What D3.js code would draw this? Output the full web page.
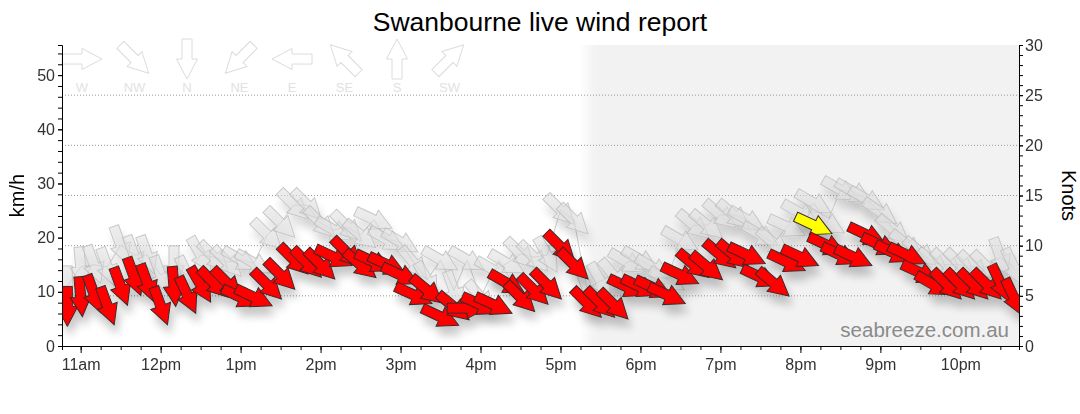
<!DOCTYPE html>
<html lang="en">
<head>
<meta charset="utf-8">
<title>Swanbourne live wind report</title>
<script src="https://cdn.jsdelivr.net/npm/d3@7"></script>
<style>
  body { margin: 0; background: #fff; }
  text { font-family: "Liberation Sans", Arial, sans-serif; }
</style>
</head>
<body>
<div id="wrapper"></div>
<script>
// readings every 10 minutes
const times = ["10:50","11:00","11:10","11:20","11:30","11:40","11:50",
  "12:00","12:10","12:20","12:30","12:40","12:50",
  "13:00","13:10","13:20","13:30","13:40","13:50",
  "14:00","14:10","14:20","14:30","14:40","14:50",
  "15:00","15:10","15:20","15:30","15:40","15:50",
  "16:00","16:10","16:20","16:30","16:40","16:50",
  "17:00","17:10","17:20","17:30","17:40","17:50",
  "18:00","18:10","18:20","18:30","18:40","18:50",
  "19:00","19:10","19:20","19:30","19:40","19:50",
  "20:00","20:10","20:20","20:30","20:40","20:50",
  "21:00","21:10","21:20","21:30","21:40","21:50",
  "22:00","22:10","22:20","22:30","22:40"]

// average wind, km/h
const avgSpeed = [7.3, 9.1, 9.6, 7.4, 11.0, 12.8, 11.6, 7.4, 11.0, 9.4,
  11.3, 11.6, 11.6, 9.0, 9.0, 11.3, 13.1, 15.9, 15.3, 15.0,
  16.4, 17.2, 15.0, 15.5, 15.0, 13.1, 9.4, 10.3, 5.4, 7.2,
  7.0, 7.6, 7.6, 11.6, 9.0, 10.3, 11.3, 18.3, 15.0, 7.9,
  7.9, 7.6, 10.9, 10.9, 10.7, 9.4, 13.1, 15.0, 14.6, 16.8,
  16.8, 16.8, 12.7, 11.6, 15.5, 16.4, 22.3, 18.6, 16.8, 16.4,
  20.5, 18.6, 17.2, 16.8, 13.5, 11.3, 11.3, 11.3, 11.3, 11.3,
  11.6, 9.0]

// wind direction (degrees, from)
const avgDir = [360, 355, 340, 340, 340, 340, 340, 340, 355, 335,
  330, 315, 315, 295, 295, 315, 315, 315, 315, 315,
  295, 315, 310, 295, 295, 295, 295, 310, 295, 310,
  270, 295, 295, 300, 315, 315, 315, 315, 315, 315,
  315, 315, 295, 295, 295, 295, 295, 310, 310, 310,
  310, 295, 295, 310, 295, 295, 295, 295, 295, 295,
  295, 295, 295, 295, 295, 300, 315, 315, 315, 315,
  335, 335]

// gusts, km/h
const gustSpeed = [11.1, 14.6, 15.0, 14.6, 18.6, 16.8, 16.8, 13.1, 14.8, 13.1,
  16.8, 16.4, 15.5, 15.9, 15.3, 20.5, 22.7, 26.0, 26.0, 22.7,
  21.4, 22.0, 20.5, 23.3, 19.6, 19.2, 15.3, 12.2, 15.9, 10.3,
  15.9, 9.0, 14.0, 15.3, 17.0, 16.4, 16.8, 25.1, 23.3, 10.5,
  12.0, 13.0, 15.5, 15.9, 14.4, 12.2, 19.6, 22.3, 22.3, 24.2,
  24.2, 23.3, 20.5, 19.0, 22.0, 24.5, 26.4, 22.7, 28.8, 28.4,
  27.0, 24.7, 21.4, 18.6, 17.3, 15.3, 15.0, 15.0, 14.6, 14.6,
  16.4, 14.6]

const gustDir = [360, 355, 340, 340, 340, 340, 340, 340, 360, 335,
  330, 315, 315, 300, 300, 315, 315, 315, 315, 315,
  300, 315, 310, 295, 300, 300, 320, 330, 300, 340,
  300, 320, 300, 300, 315, 315, 330, 315, 315, 340,
  330, 320, 300, 300, 300, 300, 300, 310, 310, 310,
  310, 300, 300, 310, 295, 300, 300, 300, 300, 300,
  300, 305, 310, 310, 310, 310, 315, 315, 315, 315,
  340, 335]

const highlightTimes = ["20:10"]
const sunset = "17:20"

const compassNames = ["W", "NW", "N", "NE", "E", "SE", "S", "SW"]
const compassDeg = [270, 315, 0, 45, 90, 135, 180, 225]
const hourTicks = ["11:00","12:00","13:00","14:00","15:00","16:00","17:00","18:00","19:00","20:00","21:00","22:00"]
const hourLabels = ["11am","12pm","1pm","2pm","3pm","4pm","5pm","6pm","7pm","8pm","9pm","10pm"]
const kmhTicks = [0, 10, 20, 30, 40, 50]
const knotTicks = [0, 5, 10, 15, 20, 25, 30]

const parseTime = d3.timeParse("%H:%M")
const KMH_PER_KNOT = 1.852

const width = 1080, height = 414
const plot = { left: 62, right: 1019, top: 45, bottom: 346 }

const svg = d3.select("#wrapper").append("svg")
  .attr("width", width).attr("height", height)

const x = d3.scaleTime()
  .domain([parseTime("10:46"), parseTime("22:44")])
  .range([plot.left, plot.right])
const y = d3.scaleLinear()
  .domain([0, 30 * KMH_PER_KNOT])
  .range([plot.bottom, plot.top])
const yKnots = d3.scaleLinear()
  .domain([0, 30])
  .range([plot.bottom, plot.top])

const defs = svg.append("defs")
defs.append("clipPath").attr("id", "plot-clip")
  .append("rect")
  .attr("x", plot.left).attr("y", plot.top)
  .attr("width", plot.right - plot.left).attr("height", plot.bottom - plot.top)

const shadow = defs.append("filter").attr("id", "shadow")
  .attr("x", "-10%").attr("y", "-20%").attr("width", "125%").attr("height", "150%")
shadow.append("feGaussianBlur").attr("in", "SourceAlpha").attr("stdDeviation", 4).attr("result", "blur")
shadow.append("feOffset").attr("in", "blur").attr("dx", 3).attr("dy", 9).attr("result", "off")
shadow.append("feComponentTransfer").attr("in", "off").attr("result", "soft")
  .append("feFuncA").attr("type", "linear").attr("slope", 0.22)
const merge = shadow.append("feMerge")
merge.append("feMergeNode").attr("in", "soft")
merge.append("feMergeNode").attr("in", "SourceGraphic")

const night = defs.append("linearGradient").attr("id", "night-edge")
night.append("stop").attr("offset", "0%").attr("stop-color", "#ffffff")
night.append("stop").attr("offset", "100%").attr("stop-color", "#f2f2f2")

// night shading
const xs = x(parseTime(sunset))
svg.append("rect")
  .attr("x", xs - 8).attr("y", plot.top)
  .attr("width", 16).attr("height", plot.bottom - plot.top)
  .attr("fill", "url(#night-edge)")
svg.append("rect")
  .attr("x", xs + 8).attr("y", plot.top)
  .attr("width", plot.right - xs - 8).attr("height", plot.bottom - plot.top)
  .attr("fill", "#f2f2f2")

// knot gridlines
svg.append("g")
  .selectAll("line")
  .data(knotTicks.filter(k => k > 0 && k < 30))
  .join("line")
  .attr("x1", plot.left).attr("x2", plot.right)
  .attr("y1", d => yKnots(d)).attr("y2", d => yKnots(d))
  .attr("stroke", "#999").attr("stroke-dasharray", "1,2")

// watermark
svg.append("text")
  .attr("x", 1009).attr("y", 337)
  .attr("text-anchor", "end")
  .style("font-size", "20.5px")
  .style("fill", "#8a8a8a")
  .text("seabreeze.com.au")

// arrow shape pointing right, centred on the point
const arrowPath = "M-20,-5L0,-5L0,-10.5L20,0L0,10.5L0,5L-20,5Z"
const rot = dir => dir - 270

// compass legend
const legend = svg.append("g")
compassNames.forEach((name, i) => {
  const cx = 82 + i * 52.5
  legend.append("path")
    .attr("d", arrowPath)
    .attr("transform", `translate(${cx},59) rotate(${rot(compassDeg[i])})`)
    .attr("fill", "#fff")
    .attr("stroke", "#dcdcdc")
  legend.append("text")
    .attr("x", cx).attr("y", 92)
    .attr("text-anchor", "middle")
    .style("font-size", "13px")
    .style("fill", "#e2e2e2")
    .text(name)
})

const readings = times.map((t, i) => ({
  time: parseTime(t),
  label: t,
  avg: avgSpeed[i],
  avgDir: avgDir[i],
  gust: gustSpeed[i],
  gustDir: gustDir[i]
}))

const marks = svg.append("g").attr("clip-path", "url(#plot-clip)")

// gust line and arrows
marks.append("path")
  .datum(readings)
  .attr("fill", "none")
  .attr("stroke", "#cfcfcf")
  .attr("stroke-width", 1)
  .attr("d", d3.line().x(d => x(d.time)).y(d => y(d.gust)))

marks.append("g")
  .attr("filter", "url(#shadow)")
  .selectAll("path")
  .data(readings)
  .join("path")
  .attr("d", arrowPath)
  .attr("transform", d => `translate(${x(d.time)},${y(d.gust)}) rotate(${rot(d.gustDir)})`)
  .attr("fill", "#dedede")
  .attr("fill-opacity", 0.55)
  .attr("stroke", "#bdbdbd")
  .attr("stroke-opacity", 0.8)

// average arrows
marks.append("g")
  .attr("filter", "url(#shadow)")
  .selectAll("path")
  .data(readings)
  .join("path")
  .attr("d", arrowPath)
  .attr("transform", d => `translate(${x(d.time)},${y(d.avg)}) rotate(${rot(d.avgDir)})`)
  .attr("fill", d => highlightTimes.includes(d.label) ? "#ffff00" : "#ff0000")
  .attr("stroke", "#3a2a2a")
  .attr("stroke-width", 1)

// axes
svg.append("g")
  .attr("transform", `translate(${plot.left},0)`)
  .call(d3.axisLeft(y).tickValues(d3.range(0, 56, 2)).tickSize(4).tickFormat(""))
svg.append("g")
  .attr("transform", `translate(${plot.left},0)`)
  .call(d3.axisLeft(y).tickValues(kmhTicks).tickSize(4).tickPadding(3))
  .call(g => g.select(".domain").remove())

svg.append("g")
  .attr("transform", `translate(${plot.right},0)`)
  .call(d3.axisRight(yKnots).tickValues(d3.range(0, 31, 1)).tickSize(4).tickFormat(""))
svg.append("g")
  .attr("transform", `translate(${plot.right},0)`)
  .call(d3.axisRight(yKnots).tickValues(knotTicks).tickSize(4).tickPadding(2))
  .call(g => g.select(".domain").remove())

svg.append("g")
  .attr("transform", `translate(0,${plot.bottom})`)
  .call(d3.axisBottom(x).ticks(d3.timeMinute.every(15)).tickSize(4).tickFormat(""))
svg.append("g")
  .attr("transform", `translate(0,${plot.bottom})`)
  .call(d3.axisBottom(x)
    .tickValues(hourTicks.map(parseTime))
    .tickSize(7)
    .tickPadding(6)
    .tickFormat((d, i) => hourLabels[i]))
  .call(g => g.select(".domain").remove())

svg.selectAll(".tick text")
  .style("font-size", "16px")
  .style("font-family", "'Liberation Sans', Arial, sans-serif")
  .style("fill", "#333")
svg.selectAll(".domain, .tick line").attr("stroke", "#000")

// titles
svg.append("text")
  .attr("x", 540).attr("y", 31)
  .attr("text-anchor", "middle")
  .style("font-size", "26.5px")
  .style("fill", "#000")
  .text("Swanbourne live wind report")

svg.append("text")
  .attr("transform", `translate(24,${(plot.top + plot.bottom) / 2}) rotate(-90)`)
  .attr("text-anchor", "middle")
  .style("font-size", "20px")
  .style("fill", "#000")
  .text("km/h")

svg.append("text")
  .attr("transform", `translate(1062,${(plot.top + plot.bottom) / 2}) rotate(90)`)
  .attr("text-anchor", "middle")
  .style("font-size", "20px")
  .style("fill", "#000")
  .text("Knots")
</script>
</body>
</html>
